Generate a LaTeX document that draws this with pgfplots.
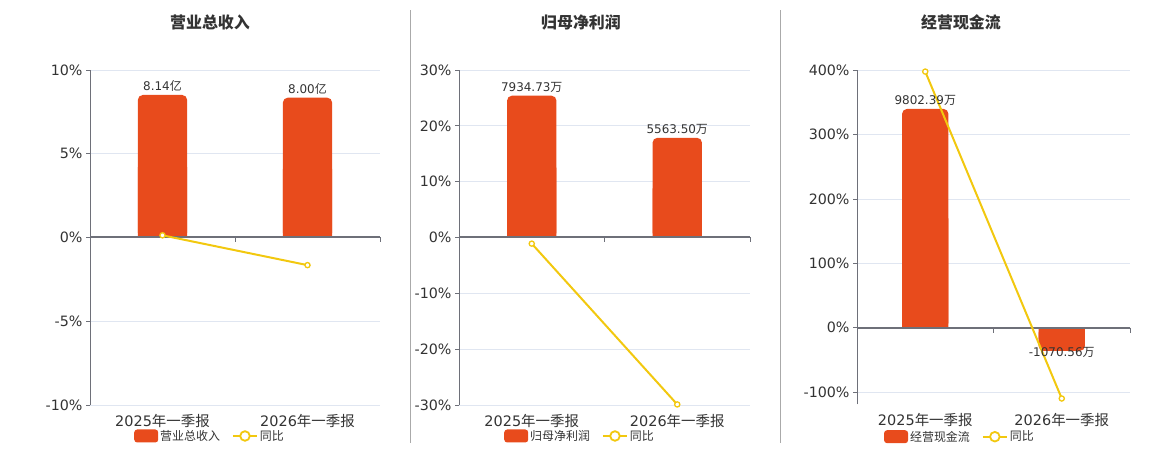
\documentclass[border=0pt]{standalone}
\usepackage{fontspec}
\setmainfont{DejaVu Sans}
\newfontfamily\cjk{Noto Sans CJK SC}
\usepackage{pgfplots}
\pgfplotsset{compat=1.18}
\definecolor{barcol}{HTML}{E84B1C}
\definecolor{linecol}{HTML}{F2C80F}
\definecolor{axiscol}{HTML}{6E7079}
\definecolor{gridcol}{HTML}{E0E6F1}
\definecolor{txtcol}{HTML}{333333}
\definecolor{sepcol}{HTML}{AAAAAA}
\pgfplotsset{
  panel/.style={
    scale only axis,
    anchor=south west,
    xmin=-0.5, xmax=1.5,
    xtick={0,1},
    xticklabels={{2025\cjk 年一季报},{2026\cjk 年一季报}},
    axis x line*=bottom, axis y line*=left,
    x axis line style={draw=none},
    y axis line style={draw=axiscol, line width=0.8bp},
    xtick style={draw=none},
    ytick style={draw=axiscol, line width=0.8bp},
    major tick length=4bp,
    tick align=outside,
    ymajorgrids, grid style={draw=gridcol, line width=0.8bp},
    ticklabel style={font=\fontsize{14.3}{16}\selectfont, text=txtcol},
    xticklabel style={font=\fontsize{14.5}{16}\selectfont, yshift=-1.5bp},
    yticklabel={\pgfmathprintnumber{\tick}\%},
    /pgf/number format/assume math mode=true,
    clip=false,
    legend columns=2,
    legend style={draw=none, fill=none, font=\fontsize{12}{14}\selectfont, text=txtcol, anchor=center,
      /tikz/every even column/.append style={column sep=10bp}},
    legend cell align=left,
  },
  fullbar/.style={ybar, bar shift=0pt, fill=barcol, draw=none, bar width=#1, rounded corners=5bp,
    nodes near coords, point meta=explicit symbolic,
    every node near coord/.append style={font=\fontsize{12}{14}\selectfont, text=txtcol, inner sep=1.5bp, yshift=2bp},
    legend image code/.code={\fill[barcol, rounded corners=3bp] (0bp,-6.5bp) rectangle (24bp,6.5bp);}},
  halfbar/.style={ybar, bar shift=0pt, fill=barcol, draw=none, bar width=#1, forget plot},
  yoy/.style={linecol, line width=2bp, mark=*, mark size=2.6bp,
    mark options={fill=white, draw=linecol, line width=1.3bp},
    legend image code/.code={\draw[linecol, line width=2bp] (0bp,0bp) -- (24bp,0bp);
      \draw[linecol, line width=1.8bp, fill=white] (12bp,0bp) circle (4.8bp);}},
}
\begin{document}
\begin{tikzpicture}
\useasboundingbox (0,0) rectangle (1160bp,450bp);
\draw[sepcol, line width=1bp] (410bp,7bp) -- (410bp,440bp);
\draw[sepcol, line width=1bp] (780bp,7bp) -- (780bp,440bp);
\node[font=\fontsize{16}{18}\selectfont\bfseries, text=txtcol] at (210bp,428bp) {\cjk 营业总收入};
\node[font=\fontsize{16}{18}\selectfont\bfseries, text=txtcol] at (581bp,428bp) {\cjk 归母净利润};
\node[font=\fontsize{16}{18}\selectfont\bfseries, text=txtcol] at (961bp,428bp) {\cjk 经营现金流};

% Panel 1
\begin{axis}[panel, at={(90bp,45bp)}, width=290bp, height=335bp,
  ymin=-10, ymax=10, ytick={-10,-5,0,5,10},
  legend style={at={(0.414,-0.0925)}}]
\addplot[fullbar=0.34] coordinates {(0,8.51) [{8.14\cjk 亿}] (1,8.35) [{8.00\cjk 亿}]};
\addlegendentry{\cjk 营业总收入}
\addplot[halfbar=0.34] coordinates {(0,4.2) (1,4.1)};
\draw[axiscol, line width=2bp] (axis cs:-0.5,0) -- (axis cs:1.5,0);
\draw[axiscol, line width=0.8bp] (axis cs:0.5,0) -- ++(0bp,-5bp);
\draw[axiscol, line width=0.8bp] (axis cs:1.5,0) -- ++(0bp,-5bp);
\addplot[yoy] coordinates {(0,0.13) (1,-1.65)};
\addlegendentry{\cjk 同比}
\end{axis}

% Panel 2
\begin{axis}[panel, at={(459bp,45bp)}, width=291bp, height=335bp,
  ymin=-30, ymax=30, ytick={-30,-20,...,30},
  legend style={at={(0.416,-0.0925)}}]
\addplot[fullbar=0.34] coordinates {(0,25.4) [{7934.73\cjk 万}] (1,17.86) [{5563.50\cjk 万}]};
\addlegendentry{\cjk 归母净利润}
\addplot[halfbar=0.34] coordinates {(0,12.5) (1,8.8)};
\draw[axiscol, line width=2bp] (axis cs:-0.5,0) -- (axis cs:1.5,0);
\draw[axiscol, line width=0.8bp] (axis cs:0.5,0) -- ++(0bp,-5bp);
\draw[axiscol, line width=0.8bp] (axis cs:1.5,0) -- ++(0bp,-5bp);
\addplot[yoy] coordinates {(0,-1.1) (1,-29.9)};
\addlegendentry{\cjk 同比}
\end{axis}

% Panel 3
\begin{axis}[panel, at={(857bp,45.7bp)}, width=273bp, height=334bp,
  ymin=-119, ymax=400, ytick={-100,0,...,400},
  legend style={at={(0.377,-0.097)}}]
\addplot[fullbar=0.34] coordinates {(0,340) [{9802.39\cjk 万}]};
\addlegendentry{\cjk 经营现金流}
\addplot[fullbar=0.34, forget plot, every node near coord/.append style={anchor=north, yshift=3bp}] coordinates {(1,-36) [{-1070.56\cjk 万}]};
\addplot[halfbar=0.34] coordinates {(0,170) (1,-18)};
\draw[axiscol, line width=2bp] (axis cs:-0.5,0) -- (axis cs:1.5,0);
\draw[axiscol, line width=0.8bp] (axis cs:0.5,0) -- ++(0bp,-5bp);
\draw[axiscol, line width=0.8bp] (axis cs:1.5,0) -- ++(0bp,-5bp);
\addplot[yoy] coordinates {(0,398) (1,-110)};
\addlegendentry{\cjk 同比}
\end{axis}
\end{tikzpicture}
\end{document}
